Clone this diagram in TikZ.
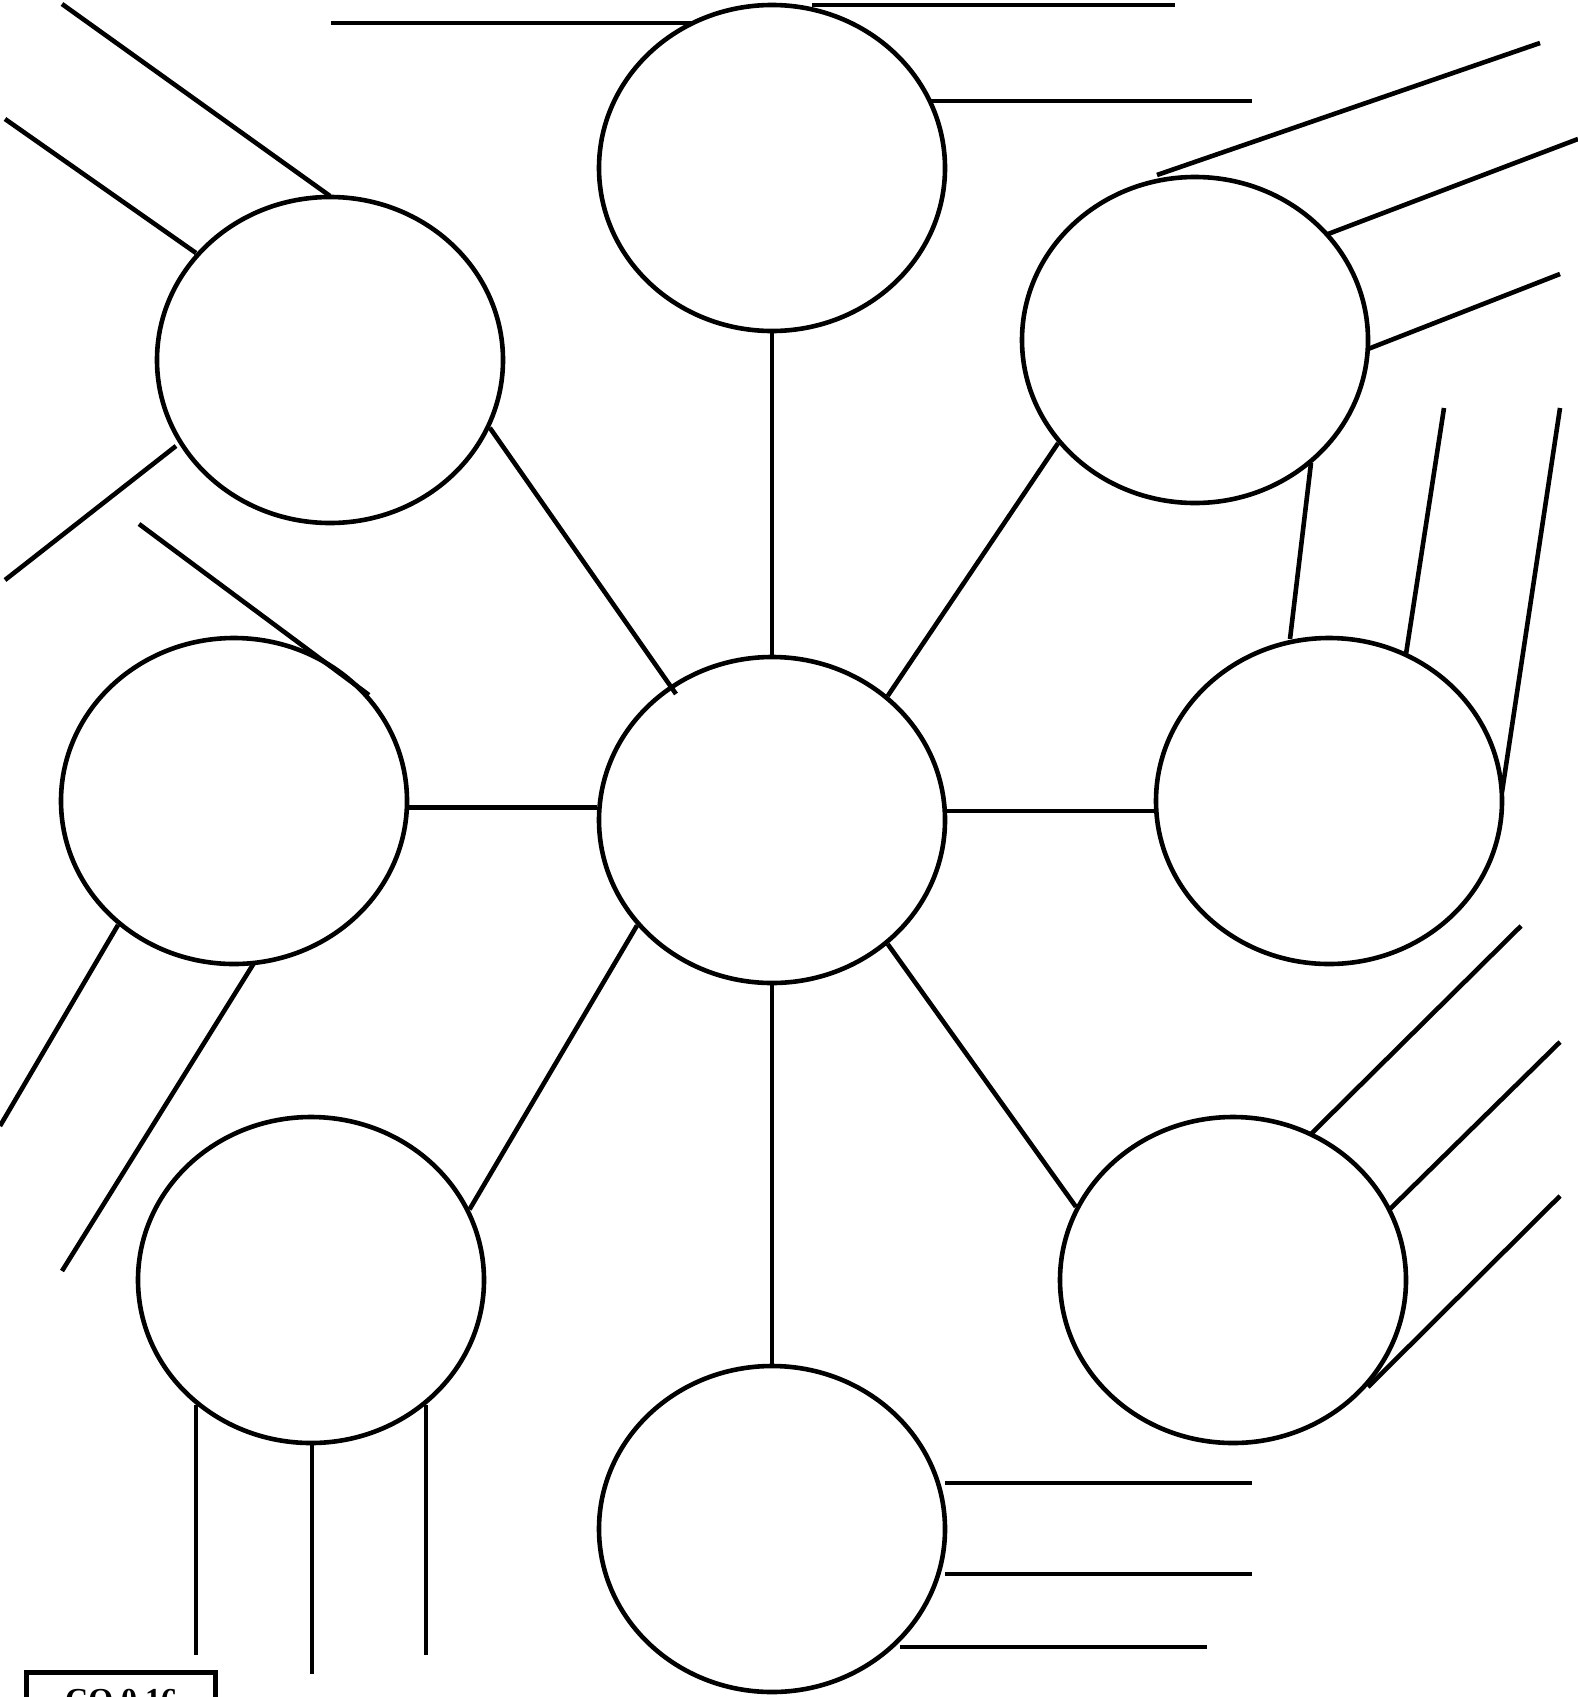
\documentclass[tikz,border=0pt]{standalone}
\usepackage{fontspec}
\setmainfont{Liberation Serif}
\usetikzlibrary{shapes.geometric}
\begin{document}
\begin{tikzpicture}[x=0.5pt,y=-0.5pt,line width=2.3pt,
  bubble/.style={draw,ellipse,minimum width=173pt,minimum height=163pt,inner sep=0pt},
  spoke/.style={line width=2.3pt},
  hub/.style={line width=2.3pt},
  tag/.style={draw,line width=2.7pt,minimum width=94.5pt,minimum height=30pt,inner sep=0pt,anchor=north west,font=\fontsize{16}{18}\selectfont\bfseries}]
\useasboundingbox (0,0) rectangle (1578,1697);
% bubbles
\node[bubble] (c)  at (772,820) {};
\node[bubble] (t)  at (772,168) {};
\node[bubble] (tl) at (330,360) {};
\node[bubble] (tr) at (1195,340) {};
\node[bubble] (l)  at (234,801) {};
\node[bubble] (r)  at (1329,801) {};
\node[bubble] (bl) at (311,1280) {};
\node[bubble] (br) at (1233,1280) {};
\node[bubble] (b)  at (772,1529) {};
% hub connectors
\draw[hub] (c.north) -- (t.south);
\draw[hub] (c.south) -- (b.north);
\draw[hub] (c.176.7) -- (c.176.7 -| l.east);
\draw[hub] (c.3.3) -- (c.3.3 -| r.west);
\draw[hub] (676,694) -- (tl.-23.9);
\draw[hub] (c.47.4) -- (tr.217.6);
\draw[hub] (c.218.3) -- (bl.24.4);
\draw[hub] (c.-47.4) -- (br.155.6);
% top bubble spokes
\draw[spoke] (331,23) -- (694,23);
\draw[spoke] (812,5) -- (1175,5);
\draw[spoke] (929,101) -- (1252,101);
% top-left bubble spokes
\draw[spoke] (62,4) -- (330,196);
\draw[spoke] (5,119) -- (196,253);
\draw[spoke] (176,446) -- (5,580);
% left bubble spokes
\draw[spoke] (139,524) -- (369,695);
\draw[spoke] (118,925) -- (0,1126);
\draw[spoke] (254,963) -- (62,1271);
% bottom-left bubble spokes
\draw[spoke] (196,1405) -- (196,1655);
\draw[spoke] (312,1445) -- (312,1674);
\draw[spoke] (426,1405) -- (426,1655);
% top-right bubble spokes
\draw[spoke] (1157,175) -- (1540,43);
\draw[spoke] (1328,234) -- (1578,139);
\draw[spoke] (1368,349) -- (1560,274);
\draw[spoke] (1311,463) -- (1290,639);
% right bubble spokes
\draw[spoke] (1444,408) -- (1406,654);
\draw[spoke] (1560,408) -- (1502,792);
% bottom-right bubble spokes
\draw[spoke] (1311,1134) -- (1521,926);
\draw[spoke] (1389,1210) -- (1560,1042);
\draw[spoke] (1368,1387) -- (1560,1196);
% bottom bubble spokes
\draw[spoke] (945,1483) -- (1252,1483);
\draw[spoke] (945,1574) -- (1252,1574);
\draw[spoke] (900,1647) -- (1207,1647);
% label box (cut off at the page edge, as in the reference)
\node[tag] (lbl) at (24,1670) {CQ 0.16};
\end{tikzpicture}
\end{document}
